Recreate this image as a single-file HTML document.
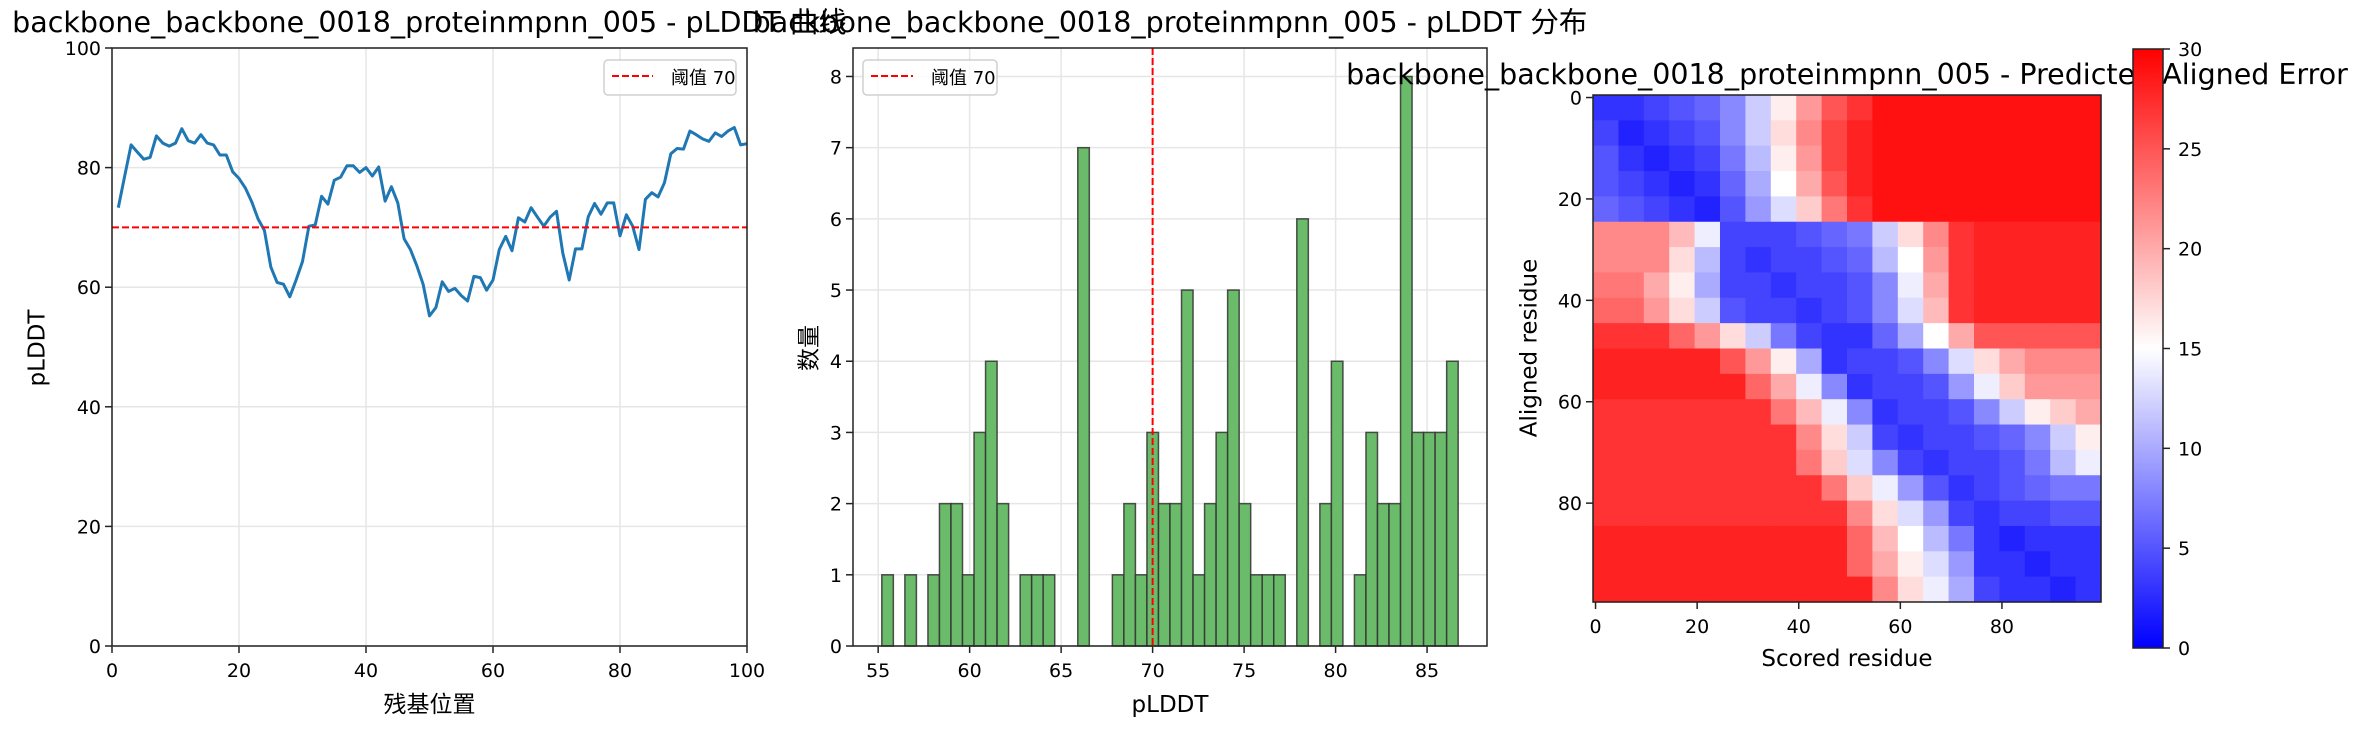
<!DOCTYPE html>
<html><head><meta charset="utf-8"><style>
html,body{margin:0;padding:0;background:#fff;}
svg{display:block;font-family:"DejaVu Sans","Liberation Sans","Noto Sans CJK SC",sans-serif;}
</style></head><body>
<svg id="fig" width="2374" height="730" viewBox="0 0 2374 730" xmlns="http://www.w3.org/2000/svg"></svg>
<script>
// ---------- data ----------
const residues = [];
for (let i = 1; i <= 100; i++) residues.push(i);
const plddt = [73.3,78.6,83.8,82.6,81.4,81.7,85.3,84.1,83.6,84.1,86.5,84.5,84.1,85.5,84.1,83.8,82.1,82.1,79.3,78.2,
76.6,74.3,71.4,69.5,63.4,60.8,60.5,58.4,61.2,64.3,70.2,70.4,75.2,73.9,77.9,78.4,80.3,80.3,79.2,80.0,
78.6,80.1,74.4,76.8,74.1,68.1,66.3,63.6,60.5,55.2,56.6,60.9,59.3,59.8,58.6,57.7,61.8,61.6,59.5,61.2,
66.3,68.5,66.1,71.6,70.9,73.3,71.7,70.2,71.7,72.7,65.7,61.2,66.4,66.4,71.8,74.0,72.2,74.1,74.1,68.6,
72.1,70.2,66.3,74.7,75.8,75.1,77.5,82.3,83.2,83.1,86.1,85.5,84.8,84.4,85.8,85.2,86.1,86.7,83.8,84.0];
const threshold = [70];
const lineXTicks = [0,20,40,60,80,100];
const lineYTicks = [0,20,40,60,80,100];
const histCounts = [1,0,1,0,1,2,2,1,3,4,2,0,1,1,1,0,0,7,0,0,
1,2,1,3,2,2,5,1,2,3,5,2,1,1,1,0,6,0,2,4,
0,1,3,2,2,8,3,3,3,4];
const binRange = [55.2,86.7];
const histXTicks = [55,60,65,70,75,80,85];
const histYTicks = [0,1,2,3,4,5,6,7,8];
const paeTicks = [0,20,40,60,80];
const cbarTicks = [0,5,10,15,20,25,30];
const paeBlocks = [
[3,3,4,5,6,8,12,16,21,25,27,29,29,29,29,29,29,29,29,29],
[4,2,3,4,5,8,12,17,22,26,28,29,29,29,29,29,29,29,29,29],
[5,3,2,3,4,7,11,16,21,26,28,29,29,29,29,29,29,29,29,29],
[5,4,3,2,3,6,10,15,20,25,28,29,29,29,29,29,29,29,29,29],
[6,5,4,3,2,5,9,13,18,23,27,29,29,29,29,29,29,29,29,29],
[22,22,22,19,14,4,4,4,5,6,7,12,17,22,27,28,28,28,28,28],
[22,22,22,17,11,4,3,4,4,5,6,11,15,21,27,28,28,28,28,28],
[23,23,20,16,10,4,4,3,4,4,5,8,14,20,27,28,28,28,28,28],
[24,24,21,17,12,5,4,4,3,4,5,8,13,19,27,28,28,28,28,28],
[27,27,27,24,21,17,12,7,4,3,3,6,10,15,20,25,25,25,25,25],
[28,28,28,28,28,25,21,16,10,3,4,4,5,8,13,17,20,22,22,22],
[28,28,28,28,28,28,24,20,14,8,3,4,4,5,9,14,18,21,21,21],
[27,27,27,27,27,27,27,23,19,14,8,3,4,4,5,8,12,16,18,20],
[27,27,27,27,27,27,27,27,22,17,12,4,3,4,4,5,6,8,12,16],
[27,27,27,27,27,27,27,27,23,18,13,8,4,3,4,4,5,7,11,14],
[27,27,27,27,27,27,27,27,27,23,18,14,9,5,3,4,5,6,7,7],
[27,27,27,27,27,27,27,27,27,27,22,17,13,9,4,3,4,4,5,5],
[28,28,28,28,28,28,28,28,28,28,24,19,15,11,7,3,2,3,3,3],
[28,28,28,28,28,28,28,28,28,28,24,20,16,13,9,3,3,2,3,3],
[28,28,28,28,28,28,28,28,28,28,28,22,17,14,10,4,3,3,2,3]];

// ---------- helpers ----------
const NS = "http://www.w3.org/2000/svg";
const svg = document.getElementById('fig');
function mk(tag, attrs, name, parent) {
  const el = document.createElementNS(NS, tag);
  for (const k in attrs) el.setAttribute(k, attrs[k]);
  
  
  (parent || svg).appendChild(el);
  return el;
}
function txt(x, y, s, size, anchor, name, extra) {
  const a = Object.assign({x: x, y: y, 'font-size': size, 'text-anchor': anchor || 'middle', fill: '#000'}, extra || {});
  const t = mk('text', a, name);
  t.textContent = s;
  return t;
}
const TICK = 19;
const LAB = 23;
const TITLE = 28.5;

// ---------- panel 1: line ----------
(function(){
  const L=112, R=747, T=48, B=646;
  const xs = v => L + (v-0)/(100-0)*(R-L);
  const ys = v => B - (v-0)/(100-0)*(B-T);
  lineXTicks.forEach(v => {
    mk('line',{x1:xs(v),x2:xs(v),y1:T,y2:B,stroke:'#e6e6e6','stroke-width':1.5},'x-gridline');
    mk('line',{x1:xs(v),x2:xs(v),y1:B,y2:B+7,stroke:'#222','stroke-width':1.5},'x-tick');
    txt(xs(v), B+31, String(v), TICK, 'middle', 'x-tick-label');
  });
  lineYTicks.forEach(v => {
    mk('line',{x1:L,x2:R,y1:ys(v),y2:ys(v),stroke:'#e6e6e6','stroke-width':1.5},'y-gridline');
    mk('line',{x1:L-7,x2:L,y1:ys(v),y2:ys(v),stroke:'#222','stroke-width':1.5},'y-tick');
    txt(L-11, ys(v)+7, String(v), TICK, 'end', 'y-tick-label');
  });
  const pts = residues.map((r,i)=>xs(r).toFixed(1)+','+ys(plddt[i]).toFixed(1)).join(' ');
  mk('polyline',{points:pts,fill:'none',stroke:'#1f77b4','stroke-width':3,'stroke-linejoin':'round'},'plddt-line');
  mk('line',{x1:L,x2:R,y1:ys(threshold[0]),y2:ys(threshold[0]),stroke:'#ff0000','stroke-width':2,'stroke-dasharray':'7,3'},'threshold-line');
  mk('rect',{x:L,y:T,width:R-L,height:B-T,fill:'none',stroke:'#222','stroke-width':1.5},'plot-frame');
  mk('rect',{x:604,y:60,width:132,height:35,rx:4,fill:'#fff','fill-opacity':0.8,stroke:'#d0d0d0','stroke-width':1.5},'legend-box');
  mk('line',{x1:612,x2:653,y1:76,y2:76,stroke:'#ff0000','stroke-width':2,'stroke-dasharray':'7,3'},'legend-swatch');
  txt(671, 84, '阈值 70', 18, 'start', 'legend-entry');
  txt(38, 348, 'pLDDT', LAB, 'middle', 'y-axis-title', {transform:'rotate(-90 38 348)'}).setAttribute('dominant-baseline','middle');
  txt(429.5, 712, '残基位置', LAB, 'middle', 'x-axis-title');
  txt(429.5, 32, 'backbone_backbone_0018_proteinmpnn_005 - pLDDT 曲线', TITLE, 'middle', 'chart-title');
})();

// ---------- panel 2: histogram ----------
(function(){
  const L=853, R=1487, T=48, B=646;
  const n = histCounts.length, w = (binRange[1]-binRange[0])/n;
  const span = binRange[1]-binRange[0];
  const x0 = binRange[0]-0.05*span, x1 = binRange[1]+0.05*span;
  const yMax = Math.max(...histCounts)*1.05;
  const xs = v => L + (v-x0)/(x1-x0)*(R-L);
  const ys = v => B - v/yMax*(B-T);
  histXTicks.forEach(v => {
    mk('line',{x1:xs(v),x2:xs(v),y1:T,y2:B,stroke:'#e6e6e6','stroke-width':1.5},'x-gridline');
    mk('line',{x1:xs(v),x2:xs(v),y1:B,y2:B+7,stroke:'#222','stroke-width':1.5},'x-tick');
    txt(xs(v), B+31, String(v), TICK, 'middle', 'x-tick-label');
  });
  histYTicks.forEach(v => {
    mk('line',{x1:L,x2:R,y1:ys(v),y2:ys(v),stroke:'#e6e6e6','stroke-width':1.5},'y-gridline');
    mk('line',{x1:L-7,x2:L,y1:ys(v),y2:ys(v),stroke:'#222','stroke-width':1.5},'y-tick');
    txt(L-11, ys(v)+7, String(v), TICK, 'end', 'y-tick-label');
  });
  histCounts.forEach((c,i) => {
    if (c <= 0) return;
    const a = xs(binRange[0]+i*w), b = xs(binRange[0]+(i+1)*w);
    const bar = mk('rect',{x:a,y:ys(c),width:b-a,height:B-ys(c),fill:'#6abc6a',stroke:'#333','stroke-opacity':0.85,'stroke-width':1.5},'histogram-bar');
    
  });
  mk('line',{x1:xs(threshold[0]),x2:xs(threshold[0]),y1:T,y2:B,stroke:'#ff0000','stroke-width':2,'stroke-dasharray':'7,3'},'threshold-line');
  mk('rect',{x:L,y:T,width:R-L,height:B-T,fill:'none',stroke:'#222','stroke-width':1.5},'plot-frame');
  mk('rect',{x:863,y:60,width:134,height:35,rx:4,fill:'#fff','fill-opacity':0.8,stroke:'#d0d0d0','stroke-width':1.5},'legend-box');
  mk('line',{x1:871,x2:913,y1:76,y2:76,stroke:'#ff0000','stroke-width':2,'stroke-dasharray':'7,3'},'legend-swatch');
  txt(931, 84, '阈值 70', 18, 'start', 'legend-entry');
  txt(810, 348, '数量', LAB, 'middle', 'y-axis-title', {transform:'rotate(-90 810 348)'}).setAttribute('dominant-baseline','middle');
  txt(1170, 712, 'pLDDT', LAB, 'middle', 'x-axis-title');
  txt(1170, 32, 'backbone_backbone_0018_proteinmpnn_005 - pLDDT 分布', TITLE, 'middle', 'chart-title');
})();

// ---------- panel 3: PAE heatmap ----------
function bwr(v){
  const t = Math.max(0, Math.min(1, v/30));
  let r,g,b;
  if (t < 0.5) { const k=t/0.5; r=k; g=k; b=1; } else { const k=(t-0.5)/0.5; r=1; g=1-k; b=1-k; }
  return 'rgb('+Math.round(r*255)+','+Math.round(g*255)+','+Math.round(b*255)+')';
}
(function(){
  const L=1593, R=2101, T=95, B=602;
  const N = 100, nb = paeBlocks.length, per = N/nb;
  const cs = (R-L)/N;
  const xs = v => L + (v+0.5)*cs;
  const ysc = v => T + (v+0.5)*(B-T)/N;
  txt(1847, 84, 'backbone_backbone_0018_proteinmpnn_005 - Predicted Aligned Error', TITLE, 'middle', 'chart-title');
  const g = mk('g',{},'pae-heatmap');
  paeBlocks.forEach((row,ri) => row.forEach((v,ci) => {
    const cell = mk('rect',{x:L+ci*per*cs,y:T+ri*per*(B-T)/N,width:per*cs+0.6,height:per*(B-T)/N+0.6,fill:bwr(v)},'heatmap-cell',g);
    
  }));
  mk('rect',{x:L,y:T,width:R-L,height:B-T,fill:'none',stroke:'#222','stroke-width':1.5},'plot-frame');
  paeTicks.forEach(v => {
    mk('line',{x1:xs(v),x2:xs(v),y1:B,y2:B+7,stroke:'#222','stroke-width':1.5},'x-tick');
    txt(xs(v), B+31, String(v), TICK, 'middle', 'x-tick-label');
    mk('line',{x1:L-7,x2:L,y1:ysc(v),y2:ysc(v),stroke:'#222','stroke-width':1.5},'y-tick');
    txt(L-11, ysc(v)+7, String(v), TICK, 'end', 'y-tick-label');
  });
  txt(1847, 666, 'Scored residue', LAB, 'middle', 'x-axis-title');
  txt(1530, 348, 'Aligned residue', LAB, 'middle', 'y-axis-title', {transform:'rotate(-90 1530 348)'}).setAttribute('dominant-baseline','middle');
  // colorbar
  const CL=2133, CR=2163, CT=49, CB=648;
  const defs = mk('defs',{},'defs');
  const grad = mk('linearGradient',{id:'bwrg',x1:0,y1:1,x2:0,y2:0},'colorbar-gradient',defs);
  [0,0.5,1].forEach(o => { mk('stop',{offset:o,'stop-color':bwr(o*30)},'gradient-stop',grad); });
  mk('rect',{x:CL,y:CT,width:CR-CL,height:CB-CT,fill:'url(#bwrg)',stroke:'#222','stroke-width':1.5},'colorbar');
  cbarTicks.forEach(v => {
    const y = CB - v/30*(CB-CT);
    mk('line',{x1:CR,x2:CR+7,y1:y,y2:y,stroke:'#222','stroke-width':1.5},'colorbar-tick');
    txt(CR+15, y+7, String(v), TICK, 'start', 'colorbar-tick-label');
  });
})();
</script>
</body></html>
